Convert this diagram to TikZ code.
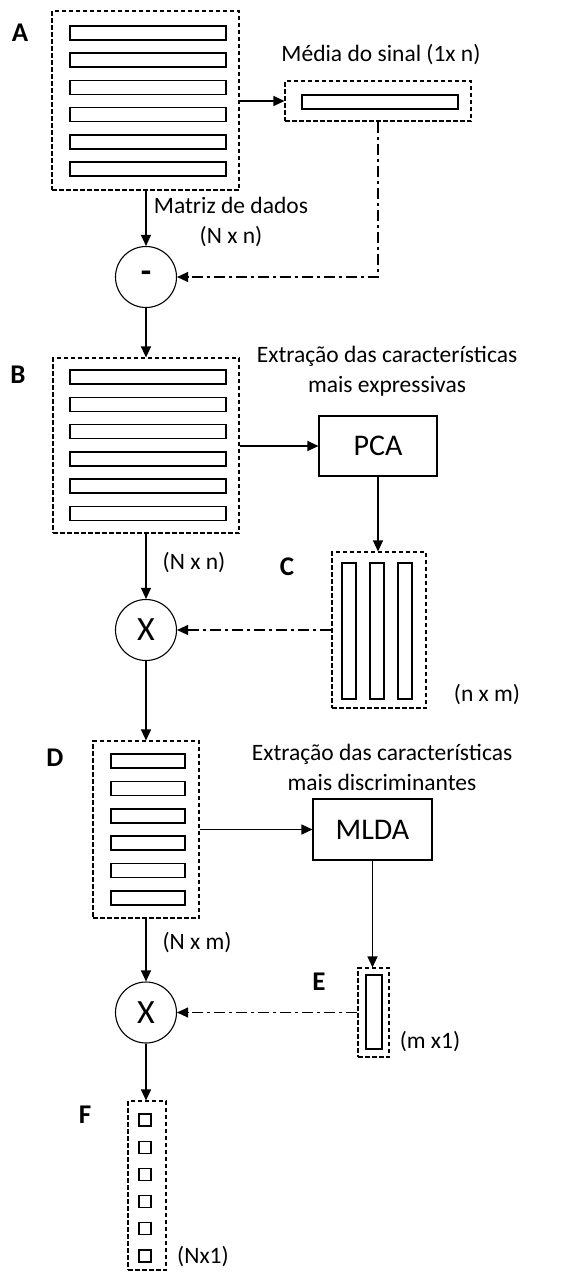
\documentclass[tikz,border=0pt]{standalone}
\usepackage{fontspec}
\setmainfont{Carlito}
\usetikzlibrary{arrows.meta}
\begin{document}
\begin{tikzpicture}[x=1pt,y=-1pt,
  cont/.style={draw, dash pattern=on 4.5pt off 2.5pt, line width=1.1pt, rectangle, inner sep=0pt},
  bar/.style={draw, line width=1.5pt},
  op/.style={draw, circle, line width=1.1pt, minimum size=61pt, inner sep=0pt, font=\fontsize{34}{34}\selectfont},
  proc/.style={draw, rectangle, line width=1.1pt, inner sep=0pt, font=\fontsize{30}{30}\selectfont},
  lbl/.style={font=\fontsize{23.5}{30}\selectfont, align=center, inner sep=0pt},
  tag/.style={font=\bfseries\fontsize{27}{27}\selectfont, inner sep=0pt},
  arr/.style={-{Triangle[length=11pt,width=10pt]}, line width=1.1pt},
  dd/.style={arr, dash pattern=on 11pt off 4pt on 3pt off 4pt},
]
\useasboundingbox (0,0) rectangle (577,1272);

% A
\node[tag] (tA) at (20,33) {A};
\node[cont, minimum width=187pt, minimum height=179pt] (A) at (145.5,100.5) {};
\foreach \i in {0,...,5} \draw[bar] (70,{26+27.2*\i}) rectangle (226,{40+27.2*\i});
% mean
\node[lbl] (tM) at (381,55) {Média do sinal (1x n)};
\node[cont, minimum width=186pt, minimum height=40pt] (M) at (378,101) {};
\draw[bar] (302,95) rectangle (458,109);
% subtraction
\node[op] (S) at (146,277) {\textbf{-}};
\node[lbl] (tMat) at (231,222) {Matriz de dados\\(N x n)};

% B
\node[tag] (tB) at (18,375) {B};
\node[cont, minimum width=186pt, minimum height=175pt] (B) at (146,445.5) {};
\foreach \i in {0,...,5} \draw[bar] (70,{370+27.3*\i}) rectangle (226,{384+27.3*\i});
\node[lbl] (tPCA) at (387,371) {Extração das características\\mais expressivas};
\node[proc, minimum width=118pt, minimum height=60pt] (P) at (378,446) {PCA};
\node[lbl] (tNn) at (194,563) {(N x n)};

% C
\node[tag] (tC) at (287,567) {C};
\node[cont, minimum width=94pt, minimum height=156pt] (C) at (379,630) {};
\foreach \x in {349,377,405} \draw[bar] ({\x-7},563) rectangle ({\x+7},699);
\node[lbl] (tnm) at (487,695) {(n x m)};
\node[op] (X1) at (146,630) {X};

% D
\node[tag] (tD) at (55,758) {D};
\node[cont, minimum width=106pt, minimum height=177pt] (D) at (146,829.5) {};
\foreach \i in {0,...,5} \draw[bar] (111,{754+27.4*\i}) rectangle (185,{768+27.4*\i});
\node[lbl] (tMLDA) at (382,767) {Extração das características\\mais discriminantes};
\node[proc, minimum width=119pt, minimum height=61pt] (L) at (372.5,829.5) {MLDA};
\node[lbl] (tNm) at (197,943) {(N x m)};

% E
\node[tag] (tE) at (319,982) {E};
\node[cont, minimum width=31pt, minimum height=89pt] (E) at (373.5,1012.5) {};
\draw[bar] (366,975) rectangle (382,1049);
\node[lbl] (tm1) at (430,1042) {(m x1)};
\node[op] (X2) at (146,1012.5) {X};

% F
\node[tag] (tF) at (85,1115) {F};
\node[cont, minimum width=38pt, minimum height=169pt] (F) at (147,1185.5) {};
\foreach \i in {0,...,5} \draw[line width=1.3pt] (139,{1114+27.2*\i}) rectangle (151,{1126+27.2*\i});
\node[lbl] (tN1) at (203,1257) {(Nx1)};

% connectors
\draw[arr] (A.east |- M.west) -- (M.west);
\draw[dd] (M.south) |- (S.east);
\draw[arr] (S.north |- A.south) -- (S.north);
\draw[arr] (S.south) -- (B.north);
\draw[arr] (B.east |- P.west) -- (P.west);
\draw[arr] (P.south) -- (P.south |- C.north);
\draw[arr] (B.south) -- (X1.north);
\draw[dd] (C.west) -- (X1.east);
\draw[arr] (X1.south) -- (D.north);
\draw[arr] (D.east) -- (L.west);
\draw[arr] (L.south) -- (L.south |- E.north);
\draw[arr] (D.south) -- (X2.north);
\draw[dd] (E.west) -- (X2.east);
\draw[arr] (X2.south) -- (X2.south |- F.north);
\end{tikzpicture}
\end{document}
